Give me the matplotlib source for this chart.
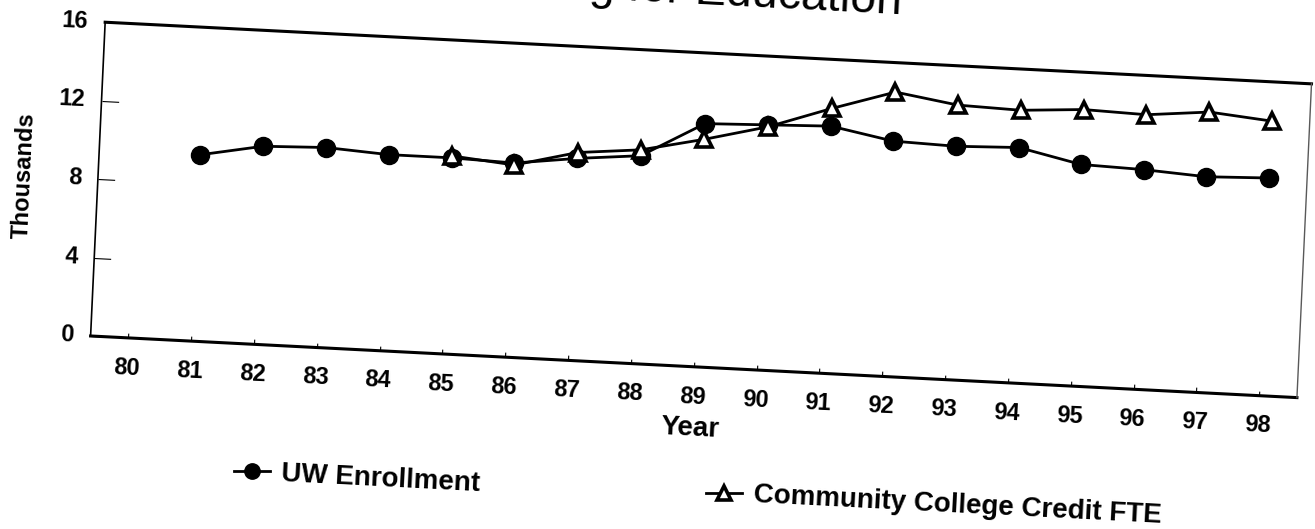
import numpy as np
import matplotlib
matplotlib.use("Agg")
import matplotlib.pyplot as plt
from matplotlib.transforms import Affine2D
from mpl_toolkits.axisartist import floating_axes
from mpl_toolkits.axisartist.grid_finder import FixedLocator, DictFormatter

plt.rcParams['font.family'] = ['Liberation Sans', 'DejaVu Sans']

# ---- data -------------------------------------------------------------
tick_years = list(range(80, 99))
tick_labels = [str(y) for y in tick_years]
value_ticks = [0, 4, 8, 12, 16]

uw_years = list(range(81, 99))
uw_enrollment = [9.5, 10.1, 10.2, 10.0, 10.0, 9.9, 10.3, 10.6, 12.4,
                 12.5, 12.6, 12.0, 11.9, 12.0, 11.3, 11.2, 11.0, 11.1]

cc_years = list(range(85, 99))
cc_fte = [10.1, 9.8, 10.6, 10.9, 11.6, 12.4, 13.5, 14.5,
          14.0, 13.9, 14.1, 14.0, 14.3, 14.0]

# ---- figure -----------------------------------------------------------
W, H = 1315, 529
fig = plt.figure(figsize=(W / 100, H / 100), dpi=100)

# The printed page sits slightly rotated, so the chart frame is an affine
# image of the (year, thousands) plane in pixel space (y pointing up).
origin = np.array([128.3, 191.1])      # pixel position of (80, 0)
per_year = np.array([62.83, -3.21])    # pixel step for one year
per_unit = np.array([0.91, 19.61])     # pixel step for one thousand
frame = Affine2D(np.array([
    [per_year[0], per_unit[0], origin[0] - 80 * per_year[0]],
    [per_year[1], per_unit[1], origin[1] - 80 * per_year[1]],
    [0.0, 0.0, 1.0]]))

helper = floating_axes.GridHelperCurveLinear(
    frame, extremes=(79.4, 98.6, 0, 16),
    grid_locator1=FixedLocator(tick_years),
    tick_formatter1=DictFormatter(dict(zip(tick_years, tick_labels))),
    grid_locator2=FixedLocator(value_ticks),
    tick_formatter2=DictFormatter({v: str(v) for v in value_ticks}))

ax = fig.add_axes([0, 0, 1, 1], axes_class=floating_axes.FloatingAxes,
                  grid_helper=helper)
ax.set_aspect('auto')
ax.set_xlim(0, W)
ax.set_ylim(0, H)

# frame lines
ax.axis["top"].line.set_linewidth(2.2)
ax.axis["bottom"].line.set_linewidth(2.2)
ax.axis["left"].line.set_linewidth(1.2)
ax.axis["right"].line.set_linewidth(1.0)
ax.axis["right"].line.set_color('0.35')
for side in ("top", "right"):
    ax.axis[side].major_ticks.set_visible(False)
    ax.axis[side].major_ticklabels.set_visible(False)

# ticks point into the plot
ax.axis["left"].major_ticks.set_tick_out(False)
ax.axis["left"].major_ticks.set_ticksize(12)
ax.axis["left"].major_ticks.set_linewidth(1.3)
ax.axis["bottom"].major_ticks.set_tick_out(False)
ax.axis["bottom"].major_ticks.set_ticksize(3.5)
ax.axis["bottom"].major_ticks.set_linewidth(1.0)

for side in ("left", "bottom"):
    ax.axis[side].major_ticklabels.set_fontweight('bold')
    ax.axis[side].label.set_fontweight('bold')
ax.axis["left"].major_ticklabels.set_fontsize(17)
ax.axis["left"].major_ticklabels.set_pad(12)
ax.axis["bottom"].major_ticklabels.set_fontsize(17)
ax.axis["bottom"].major_ticklabels.set_pad(14)

ax.axis["left"].label.set_text("Thousands")
ax.axis["left"].label.set_fontsize(17)
ax.axis["left"].label.set_pad(14)
ax.axis["bottom"].label.set_text("Year")
ax.axis["bottom"].label.set_fontsize(20)
ax.axis["bottom"].label.set_pad(9)

# series drawn in (year, thousands) coordinates
aux = ax.get_aux_axes(frame)
uw_line, = aux.plot(uw_years, uw_enrollment, color='black', lw=2.0,
                    marker='o', ms=13, mfc='black', mec='black',
                    label='UW Enrollment', zorder=3)
cc_line, = aux.plot(cc_years, cc_fte, color='black', lw=2.0,
                    marker='^', ms=11.5, mfc='white', mec='black', mew=2.6,
                    label='Community College Credit FTE', zorder=4)

# title (its upper part runs off the top of the page)
tilt = np.degrees(np.arctan2(per_year[1], per_year[0]))
ax.text(901, H - 14, "Funding for Education", fontsize=33.5,
        ha='right', va='baseline', rotation=tilt, rotation_mode='anchor')

# two legend entries, laid out side by side along the tilted page
leg_kw = dict(frameon=False, handlelength=1.3,
              prop=dict(size=20, weight='bold'),
              handletextpad=0.4, borderpad=0, borderaxespad=0,
              loc='center left', bbox_transform=ax.transData)
leg1 = ax.legend(handles=[uw_line], bbox_to_anchor=(234, H - 469), **leg_kw)
ax.add_artist(leg1)
leg2 = ax.legend(handles=[cc_line], bbox_to_anchor=(706, H - 485), **leg_kw)
for leg in (leg1, leg2):
    for t in leg.get_texts():
        t.set_rotation(tilt)
        t.set_rotation_mode('anchor')
    for h in leg.legend_handles:
        h.set_markersize(h.get_markersize() * 0.85)

fig.savefig("out.png", dpi=100)
